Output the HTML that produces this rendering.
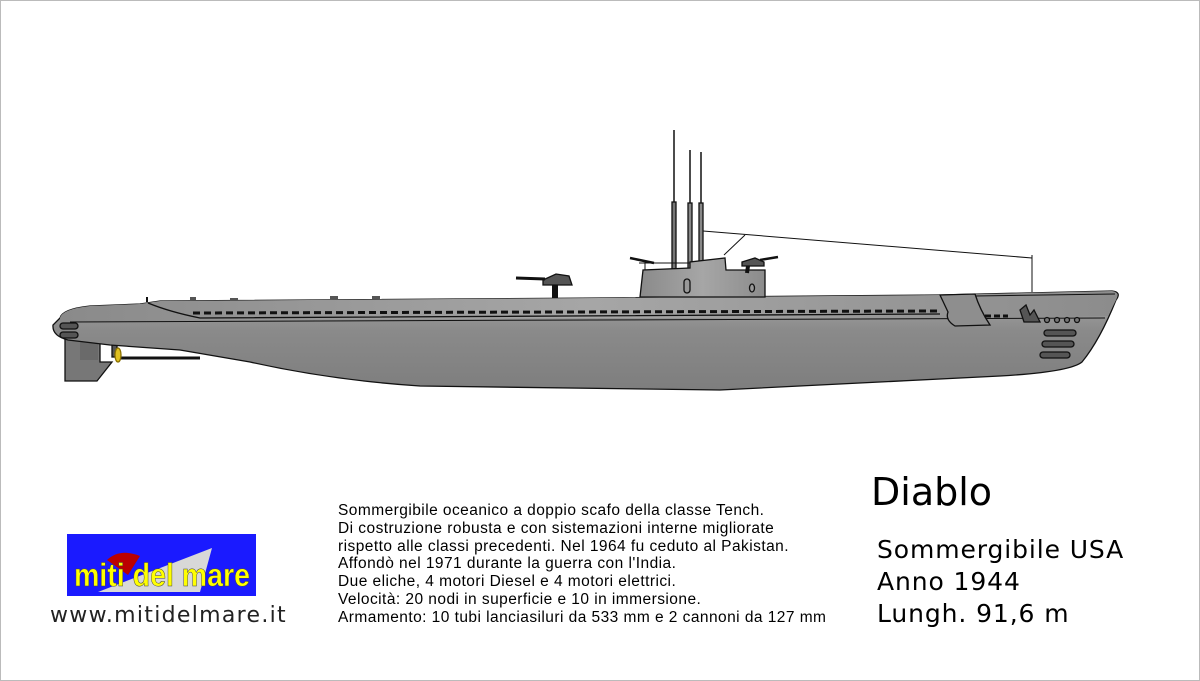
<!DOCTYPE html>
<html><head><meta charset="utf-8"><style>
html,body{margin:0;padding:0;background:#fff;}
body{width:1200px;height:681px;position:relative;overflow:hidden;font-family:"Liberation Sans","DejaVu Sans",sans-serif;}
.frame{position:absolute;left:0;top:0;width:1198px;height:679px;border:1px solid #bbb;}
.desc{position:absolute;left:338px;top:502px;font-size:15.5px;line-height:17.8px;color:#000;white-space:nowrap;letter-spacing:0.45px;}
.title{position:absolute;left:871px;top:470px;font-family:"DejaVu Sans",sans-serif;font-size:38px;color:#000;}
.info{position:absolute;left:877px;font-family:"DejaVu Sans",sans-serif;font-size:25px;color:#000;letter-spacing:0.9px;}
.url{position:absolute;left:50px;top:603px;font-family:"DejaVu Sans",sans-serif;font-size:22px;color:#222;letter-spacing:1.3px;}
</style></head><body>
<div class="frame"></div>
<svg width="1200" height="681" style="position:absolute;left:0;top:0">
<defs>
<linearGradient id="h" x1="0" y1="0" x2="0" y2="1">
<stop offset="0" stop-color="#a8a8a8"/><stop offset="0.4" stop-color="#8a8a8a"/><stop offset="1" stop-color="#7e7e7e"/></linearGradient>
<linearGradient id="c" x1="0" y1="0" x2="1" y2="0">
<stop offset="0" stop-color="#8a8a8a"/><stop offset="0.5" stop-color="#a6a6a6"/><stop offset="1" stop-color="#8c8c8c"/></linearGradient>
</defs>
<g stroke="#111" stroke-width="1.3">
<line x1="674" y1="130" x2="674" y2="270" stroke-width="1.5"/>
<line x1="690" y1="150" x2="690" y2="270" stroke-width="1.5"/>
<line x1="701" y1="152" x2="701" y2="270" stroke-width="1.5"/>
<rect x="672" y="202" width="4" height="68" fill="#777"/>
<rect x="688" y="203" width="4" height="67" fill="#888"/>
<rect x="699" y="203" width="4" height="67" fill="#888"/>
<line x1="703" y1="231" x2="1032" y2="258" stroke-width="1"/>
<line x1="745" y1="235" x2="724" y2="255" stroke-width="1"/>
<line x1="1032" y1="255" x2="1032" y2="292" stroke-width="1"/>
<path d="M65,338 L100,338 L100,362 L112,362 L97,381 L65,381 Z" fill="#777"/>
<path d="M80,342 L98,342 L98,360 L80,360 Z" fill="#6a6a6a" stroke="none"/>
<line x1="120" y1="358" x2="200" y2="358" stroke-width="3"/>
<rect x="112" y="345" width="5" height="12" fill="#555"/>
<ellipse cx="118" cy="355" rx="3" ry="7" fill="#e0c020" stroke="#8a7000"/>
<path d="M60,318 Q62,309 90,306 L140,304 L160,301 L600,298 L940,295 L1112,291 Q1122,292 1116,300 Q1100,340 1082,362 Q1070,372 1000,376 L720,390 L420,386 Q330,380 250,362 L180,350 L110,345 L68,340 Q52,336 53,325 Z" fill="url(#h)"/>
<path d="M60,318 Q62,309 90,306 L140,304 L160,301 L600,298 L940,295 L1112,291 Q1120,292 1116,300 L1108,316 L1000,318 L600,318 L200,320 L100,322 L60,323 Z" fill="url(#c)" stroke="none"/>
<path d="M148,303 Q170,312 200,318 L940,314" fill="none"/>
<line x1="70" y1="322" x2="1105" y2="318" stroke-width="1"/>
<line x1="975" y1="296" x2="1115" y2="294" stroke-width="1"/>
<line x1="193" y1="313" x2="940" y2="311" stroke-width="3" stroke-dasharray="7,4"/>
<line x1="985" y1="316" x2="1008" y2="316" stroke-width="3" stroke-dasharray="6,3"/>
<path d="M940,295 L975,294 Q980,310 990,325 L955,326 Q945,320 948,312 Z" fill="#8e8e8e"/>
<path d="M1020,310 L1026,305 L1030,315 L1034,310 L1040,322 L1024,322 Z" fill="#555"/>
<g fill="#777"><circle cx="1047" cy="320" r="2.5"/><circle cx="1057" cy="320" r="2.5"/><circle cx="1067" cy="320" r="2.5"/><circle cx="1077" cy="320" r="2.5"/></g>
<g fill="#555"><rect x="1044" y="330" width="32" height="6" rx="3"/><rect x="1042" y="341" width="32" height="6" rx="3"/><rect x="1040" y="352" width="30" height="6" rx="3"/></g>
<g fill="#555"><rect x="60" y="323" width="18" height="6" rx="3"/><rect x="60" y="332" width="18" height="6" rx="3"/></g>
<line x1="555" y1="298" x2="555" y2="282" stroke-width="6"/>
<path d="M543,280 L556,274 L569,276 L572,285 L543,285 Z" fill="#555"/>
<line x1="516" y1="278" x2="545" y2="279" stroke-width="3"/>
<path d="M640,297 L643,270 L690,268 L690,262 L725,258 L726,270 L765,270 L765,297 Z" fill="url(#c)"/>
<line x1="639" y1="263" x2="690" y2="263" stroke-width="1"/>
<line x1="645" y1="263" x2="645" y2="270" stroke-width="1"/>
<path d="M742,262 L755,258 L764,262 L764,266 L742,266 Z" fill="#555"/>
<line x1="748" y1="266" x2="747" y2="273" stroke-width="4"/>
<line x1="760" y1="260" x2="778" y2="257" stroke-width="2.5"/>
<line x1="630" y1="258" x2="654" y2="263" stroke-width="2.5"/>
<rect x="684" y="279" width="6" height="14" rx="3" fill="#999"/>
<ellipse cx="752" cy="288" rx="2.5" ry="4" fill="#999"/>
<g fill="#555" stroke="none"><rect x="372" y="296" width="8" height="3"/><rect x="190" y="297" width="6" height="3"/><rect x="230" y="298" width="8" height="3"/><rect x="330" y="296" width="8" height="3"/></g>
<line x1="147" y1="302" x2="147" y2="297" stroke-width="2"/>
</g>
<rect x="67" y="534" width="189" height="62" fill="#1a1aff"/>
<path d="M98,592 L212,548 L200,592 Z" fill="#d8d8d8"/>
<path d="M107,560 Q120,548 140,556 L128,575 Z" fill="#b00"/>
<text x="74" y="586" font-family="Liberation Sans Narrow, Liberation Sans, sans-serif" font-size="32" font-weight="bold" fill="#ffff00" stroke="#444" stroke-width="0.5" textLength="176" lengthAdjust="spacingAndGlyphs">miti del mare</text>
</svg>
<div class="desc">Sommergibile oceanico a doppio scafo della classe Tench.<br>Di costruzione robusta e con sistemazioni interne migliorate<br>rispetto alle classi precedenti. Nel 1964 fu ceduto al Pakistan.<br>Affondò nel 1971 durante la guerra con l'India.<br>Due eliche, 4 motori Diesel e 4 motori elettrici.<br>Velocità: 20 nodi in superficie e 10 in immersione.<br>Armamento: 10 tubi lanciasiluri da 533 mm e 2 cannoni da 127 mm</div>
<div class="title">Diablo</div>
<div class="info" style="top:535px">Sommergibile USA</div>
<div class="info" style="top:567px">Anno 1944</div>
<div class="info" style="top:599px">Lungh. 91,6 m</div>
<div class="url">www.mitidelmare.it</div>
</body></html>
